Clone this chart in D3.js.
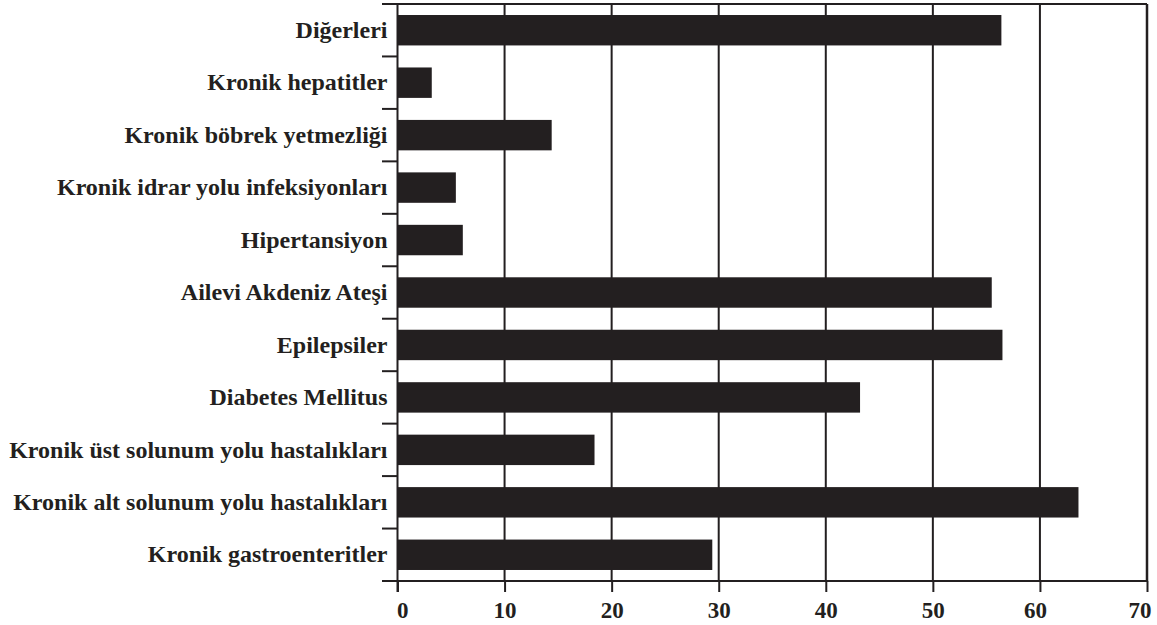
<!DOCTYPE html>
<html><head><meta charset="utf-8">
<script src="https://cdn.jsdelivr.net/npm/d3@7"></script>
<style>body{margin:0;background:#fff}svg{display:block}</style>
</head><body>
<script>
const categories = ["Diğerleri","Kronik hepatitler","Kronik böbrek yetmezliği","Kronik idrar yolu infeksiyonları","Hipertansiyon","Ailevi Akdeniz Ateşi","Epilepsiler","Diabetes Mellitus","Kronik üst solunum yolu hastalıkları","Kronik alt solunum yolu hastalıkları","Kronik gastroenteritler"];
const values = [56.4, 3.2, 14.4, 5.45, 6.1, 55.5, 56.5, 43.2, 18.4, 63.6, 29.4];
const xTicks = [0,10,20,30,40,50,60,70];

(function(){
const W = 1157, H = 625;
const ink = "#231f20";
const font = "'Liberation Serif','Times New Roman',serif";
const pL = 397.5, pR = 1147, pT = 4, pB = 581;

const svg = d3.select("body").append("svg").attr("width", W).attr("height", H);
const x = d3.scaleLinear().domain([0,70]).range([pL, pR]);
const y = d3.scaleBand().domain(categories).range([pT, pB]).paddingInner(0.42).paddingOuter(0.21);

// gridlines
svg.append("g").selectAll("line").data(xTicks.filter(d => d > 0)).join("line")
  .attr("x1", d => x(d)).attr("x2", d => x(d)).attr("y1", pT).attr("y2", pB)
  .attr("stroke", ink).attr("stroke-width", d => d === 70 ? 2.5 : 2);

// top border
svg.append("line").attr("x1", 382).attr("x2", pR).attr("y1", pT).attr("y2", pT)
  .attr("stroke", ink).attr("stroke-width", 2);

// bars
svg.append("g").selectAll("rect").data(categories).join("rect")
  .attr("x", x(0)).attr("y", d => y(d))
  .attr("width", (d,i) => x(values[i]) - x(0)).attr("height", y.bandwidth())
  .attr("fill", ink);

// bottom axis
const xAxis = d3.axisBottom(x).tickValues(xTicks).tickSizeInner(11).tickSizeOuter(0).tickPadding(10);
const gx = svg.append("g").attr("transform", `translate(0,${pB})`).call(xAxis);
gx.select(".domain").remove();
gx.selectAll(".tick line").attr("stroke", ink).attr("stroke-width", 2);
gx.selectAll(".tick text").attr("fill", ink).style("font-family", font).style("font-weight", "bold").style("font-size", "23px")
  .attr("text-anchor", d => d === 0 ? "start" : d === 70 ? "end" : "middle")
  .attr("dx", d => d === 0 ? -1 : d === 70 ? 4 : d === 60 ? -5 : 0);
svg.append("line").attr("x1", 382).attr("x2", pR + 1).attr("y1", pB).attr("y2", pB)
  .attr("stroke", ink).attr("stroke-width", 2);

// left axis
const yAxis = d3.axisLeft(y).tickSize(0).tickPadding(10);
const gy = svg.append("g").attr("transform", `translate(${pL},0)`).call(yAxis);
gy.select(".domain").remove();
gy.selectAll(".tick text").attr("fill", ink).style("font-family", font).style("font-weight", "bold").style("font-size", "24px");
svg.append("line").attr("x1", pL).attr("x2", pL).attr("y1", pT - 1).attr("y2", pB + 11)
  .attr("stroke", ink).attr("stroke-width", 2);
// category boundary ticks
const bounds = categories.slice(0, -1).map(c => y(c) + y.bandwidth() + (y.step() - y.bandwidth()) / 2);
svg.append("g").selectAll("line").data(bounds).join("line")
  .attr("x1", 382).attr("x2", pL).attr("y1", d => d).attr("y2", d => d)
  .attr("stroke", ink).attr("stroke-width", 2);
})();
</script>
</body></html>
